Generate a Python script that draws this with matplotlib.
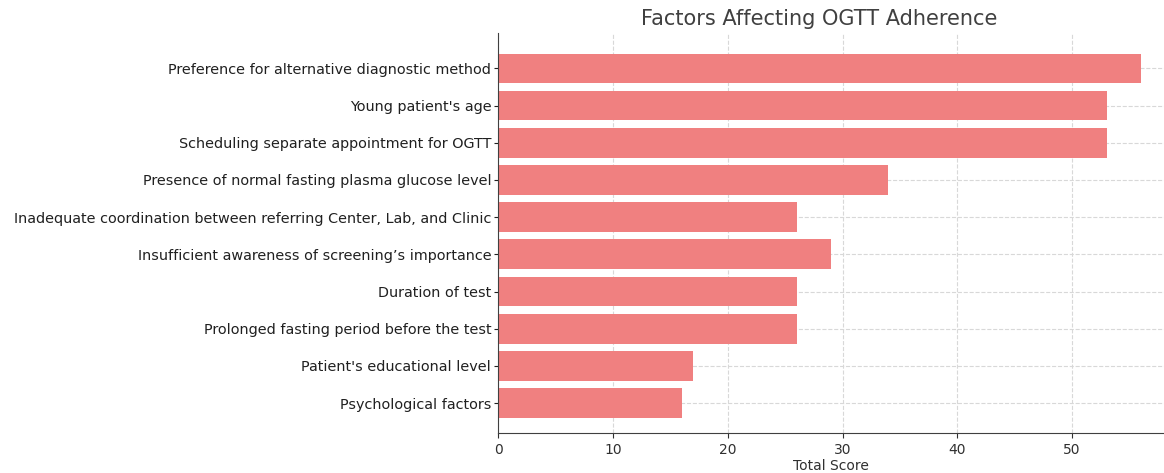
import matplotlib.pyplot as plt

factors = [
    "Preference for alternative diagnostic method",
    "Young patient's age",
    "Scheduling separate appointment for OGTT",
    "Presence of normal fasting plasma glucose level",
    "Inadequate coordination between referring Center, Lab, and Clinic",
    "Insufficient awareness of screening\u2019s importance",
    "Duration of test",
    "Prolonged fasting period before the test",
    "Patient's educational level",
    "Psychological factors",
]
scores = [56, 53, 53, 34, 26, 29, 26, 26, 17, 16]

plt.rcParams['font.family'] = ['DejaVu Sans']

fig = plt.figure(figsize=(11.64, 4.73), dpi=100)
ax = fig.add_axes([0.428, 0.085, 0.572, 0.845])

ax.barh(factors, scores, color='#f08080', height=0.8, zorder=2)
ax.invert_yaxis()
ax.set_ylim(9.8, -0.95)
ax.set_xlim(0, 58)

ax.set_title("Factors Affecting OGTT Adherence", fontsize=15, color='#404040', x=0.482)
ax.set_xlabel("Total Score", fontsize=10, color='#303030', labelpad=2)
ax.tick_params(axis='x', labelsize=10, colors='#303030')
ax.tick_params(axis='y', labelsize=10.4, colors='#202020', length=3, pad=2)

ax.grid(True, linestyle='--', color='#d8d8d8', linewidth=0.8, zorder=0)
for side in ['top', 'right']:
    ax.spines[side].set_visible(False)
for side in ['left', 'bottom']:
    ax.spines[side].set_color('#404040')

fig.savefig('out.png', dpi=100)
